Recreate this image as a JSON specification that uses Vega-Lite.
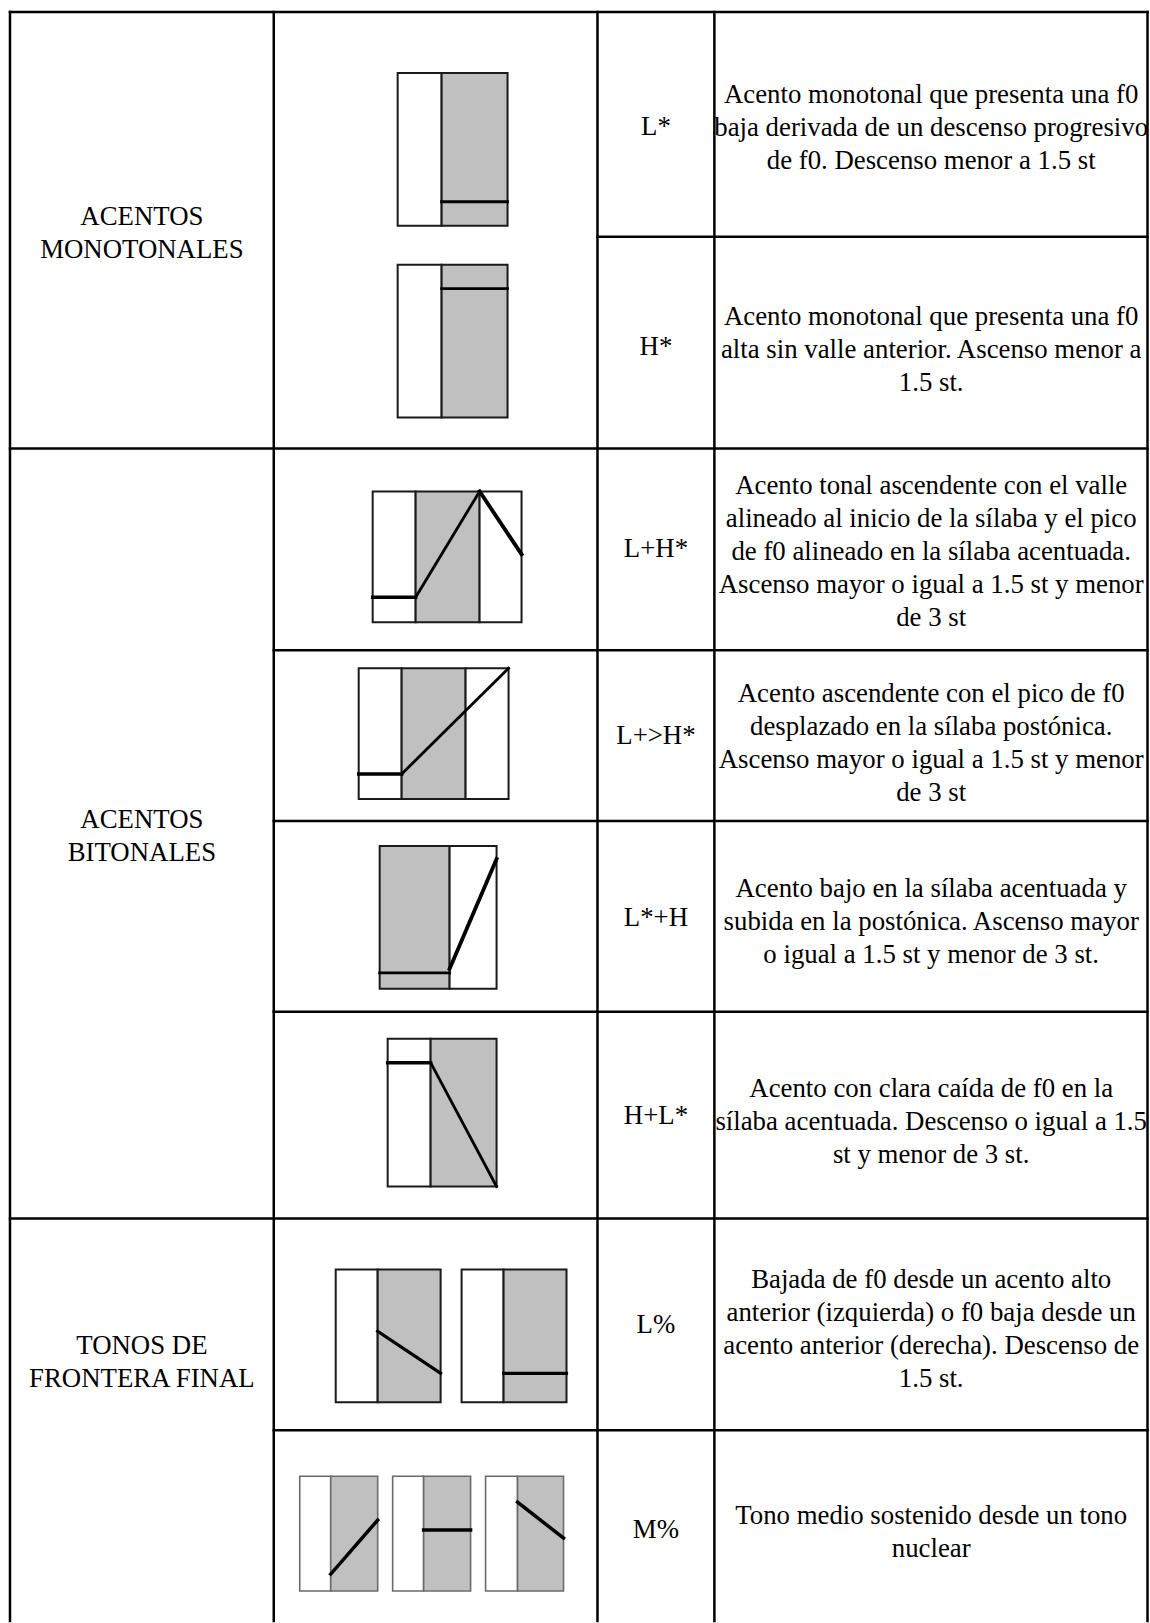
{
  "$schema": "https://vega.github.io/schema/vega-lite/v6.json",
  "width": 1150,
  "height": 1623,
  "autosize": {"type": "fit", "contains": "padding"},
  "padding": 0,
  "background": "white",
  "config": {"view": {"stroke": null}},
  "datasets": {
    "boxes": [
      {"fig": "L*", "x0": 398, "x1": 442, "y0": 73, "y1": 226, "tone": "white", "frame": "dark"},
      {"fig": "L*", "x0": 442, "x1": 508, "y0": 73, "y1": 226, "tone": "gray", "frame": "dark"},
      {"fig": "H*", "x0": 398, "x1": 442, "y0": 265, "y1": 418, "tone": "white", "frame": "dark"},
      {"fig": "H*", "x0": 442, "x1": 508, "y0": 265, "y1": 418, "tone": "gray", "frame": "dark"},
      {"fig": "L+H*", "x0": 373, "x1": 416, "y0": 492, "y1": 623, "tone": "white", "frame": "dark"},
      {"fig": "L+H*", "x0": 416, "x1": 480, "y0": 492, "y1": 623, "tone": "gray", "frame": "dark"},
      {"fig": "L+H*", "x0": 480, "x1": 522, "y0": 492, "y1": 623, "tone": "white", "frame": "dark"},
      {"fig": "L+>H*", "x0": 359, "x1": 402, "y0": 669, "y1": 800, "tone": "white", "frame": "dark"},
      {"fig": "L+>H*", "x0": 402, "x1": 466, "y0": 669, "y1": 800, "tone": "gray", "frame": "dark"},
      {"fig": "L+>H*", "x0": 466, "x1": 509, "y0": 669, "y1": 800, "tone": "white", "frame": "dark"},
      {"fig": "L*+H", "x0": 380, "x1": 450, "y0": 847, "y1": 990, "tone": "gray", "frame": "dark"},
      {"fig": "L*+H", "x0": 450, "x1": 497, "y0": 847, "y1": 990, "tone": "white", "frame": "dark"},
      {"fig": "H+L*", "x0": 388, "x1": 431, "y0": 1040, "y1": 1188, "tone": "white", "frame": "dark"},
      {"fig": "H+L*", "x0": 431, "x1": 497, "y0": 1040, "y1": 1188, "tone": "gray", "frame": "dark"},
      {"fig": "L% a", "x0": 336, "x1": 378, "y0": 1271, "y1": 1404, "tone": "white", "frame": "dark"},
      {"fig": "L% a", "x0": 378, "x1": 441, "y0": 1271, "y1": 1404, "tone": "gray", "frame": "dark"},
      {"fig": "L% b", "x0": 462, "x1": 504, "y0": 1271, "y1": 1404, "tone": "white", "frame": "dark"},
      {"fig": "L% b", "x0": 504, "x1": 567, "y0": 1271, "y1": 1404, "tone": "gray", "frame": "dark"},
      {"fig": "M% a", "x0": 300, "x1": 331, "y0": 1478, "y1": 1593, "tone": "white", "frame": "light"},
      {"fig": "M% a", "x0": 331, "x1": 378, "y0": 1478, "y1": 1593, "tone": "gray", "frame": "light"},
      {"fig": "M% b", "x0": 393, "x1": 424, "y0": 1478, "y1": 1593, "tone": "white", "frame": "light"},
      {"fig": "M% b", "x0": 424, "x1": 471, "y0": 1478, "y1": 1593, "tone": "gray", "frame": "light"},
      {"fig": "M% c", "x0": 486, "x1": 518, "y0": 1478, "y1": 1593, "tone": "white", "frame": "light"},
      {"fig": "M% c", "x0": 518, "x1": 564, "y0": 1478, "y1": 1593, "tone": "gray", "frame": "light"}
    ],
    "segments": [
      {"part": "grid", "x0": 10, "x1": 10, "y0": 12, "y1": 1623, "pen": "table"},
      {"part": "grid", "x0": 274, "x1": 274, "y0": 12, "y1": 1623, "pen": "table"},
      {"part": "grid", "x0": 598, "x1": 598, "y0": 12, "y1": 1623, "pen": "table"},
      {"part": "grid", "x0": 715, "x1": 715, "y0": 12, "y1": 1623, "pen": "table"},
      {"part": "grid", "x0": 1148.5, "x1": 1148.5, "y0": 12, "y1": 1623, "pen": "table"},
      {"part": "grid", "x0": 10, "x1": 1148.5, "y0": 12, "y1": 12, "pen": "table"},
      {"part": "grid", "x0": 10, "x1": 1148.5, "y0": 449, "y1": 449, "pen": "table"},
      {"part": "grid", "x0": 10, "x1": 1148.5, "y0": 1220, "y1": 1220, "pen": "table"},
      {"part": "grid", "x0": 598, "x1": 1148.5, "y0": 237, "y1": 237, "pen": "table"},
      {"part": "grid", "x0": 274, "x1": 1148.5, "y0": 651, "y1": 651, "pen": "table"},
      {"part": "grid", "x0": 274, "x1": 1148.5, "y0": 822, "y1": 822, "pen": "table"},
      {"part": "grid", "x0": 274, "x1": 1148.5, "y0": 1013, "y1": 1013, "pen": "table"},
      {"part": "grid", "x0": 274, "x1": 1148.5, "y0": 1432, "y1": 1432, "pen": "table"},
      {"part": "L*", "x0": 442, "x1": 508, "y0": 202, "y1": 202, "pen": "thick"},
      {"part": "H*", "x0": 442, "x1": 508, "y0": 289, "y1": 289, "pen": "thick"},
      {"part": "L+H*", "x0": 373, "x1": 416, "y0": 598, "y1": 598, "pen": "mid"},
      {"part": "L+H*", "x0": 416, "x1": 480, "y0": 598, "y1": 492, "pen": "thick"},
      {"part": "L+H*", "x0": 480, "x1": 522, "y0": 492, "y1": 555, "pen": "thin"},
      {"part": "L+>H*", "x0": 359, "x1": 402, "y0": 775, "y1": 775, "pen": "mid"},
      {"part": "L+>H*", "x0": 402, "x1": 509, "y0": 775, "y1": 669, "pen": "thick"},
      {"part": "L*+H", "x0": 380, "x1": 450, "y0": 974, "y1": 974, "pen": "thick"},
      {"part": "L*+H", "x0": 450, "x1": 497, "y0": 970, "y1": 860, "pen": "thin"},
      {"part": "H+L*", "x0": 388, "x1": 431, "y0": 1064, "y1": 1064, "pen": "mid"},
      {"part": "H+L*", "x0": 431, "x1": 497, "y0": 1064, "y1": 1188, "pen": "thick"},
      {"part": "L% a", "x0": 378, "x1": 441, "y0": 1333, "y1": 1375, "pen": "medium"},
      {"part": "L% b", "x0": 504, "x1": 567, "y0": 1375, "y1": 1375, "pen": "medium"},
      {"part": "M% a", "x0": 331, "x1": 378, "y0": 1576, "y1": 1522, "pen": "mid"},
      {"part": "M% b", "x0": 424, "x1": 471, "y0": 1532, "y1": 1532, "pen": "mid"},
      {"part": "M% c", "x0": 518, "x1": 564, "y0": 1504, "y1": 1540, "pen": "mid"}
    ],
    "cells": [
      {"col": "group", "x": 142, "y": 217, "txt": "ACENTOS\nMONOTONALES"},
      {"col": "group", "x": 142, "y": 821, "txt": "ACENTOS\nBITONALES"},
      {"col": "group", "x": 142, "y": 1348, "txt": "TONOS DE\nFRONTERA FINAL"},
      {"col": "label", "x": 656.5, "y": 127, "txt": "L*"},
      {"col": "label", "x": 656.5, "y": 347, "txt": "H*"},
      {"col": "label", "x": 656.5, "y": 550, "txt": "L+H*"},
      {"col": "label", "x": 656.5, "y": 737, "txt": "L+>H*"},
      {"col": "label", "x": 656.5, "y": 919, "txt": "L*+H"},
      {"col": "label", "x": 656.5, "y": 1117, "txt": "H+L*"},
      {"col": "label", "x": 656.5, "y": 1327, "txt": "L%"},
      {"col": "label", "x": 656.5, "y": 1532, "txt": "M%"},
      {"col": "desc", "x": 932, "y": 95, "txt": "Acento monotonal que presenta una f0\nbaja derivada de un descenso progresivo\nde f0. Descenso menor a 1.5 st"},
      {"col": "desc", "x": 932, "y": 317, "txt": "Acento monotonal que presenta una  f0\nalta sin valle anterior. Ascenso menor a\n1.5 st."},
      {"col": "desc", "x": 932, "y": 487, "txt": "Acento tonal ascendente con el valle\nalineado al inicio de la sílaba y el pico\nde  f0 alineado en la sílaba acentuada.\nAscenso mayor o igual a 1.5 st y menor\nde 3 st"},
      {"col": "desc", "x": 932, "y": 695, "txt": "Acento ascendente con el pico de f0\ndesplazado en la sílaba postónica.\nAscenso mayor o igual a 1.5 st y menor\nde 3 st"},
      {"col": "desc", "x": 932, "y": 890, "txt": "Acento bajo en la sílaba acentuada y\nsubida en la postónica. Ascenso mayor\no igual a 1.5 st y menor de 3 st."},
      {"col": "desc", "x": 932, "y": 1090, "txt": "Acento con clara caída de  f0 en la\nsílaba acentuada. Descenso o igual a 1.5\nst y menor de 3 st."},
      {"col": "desc", "x": 932, "y": 1282, "txt": "Bajada de f0 desde un acento alto\nanterior (izquierda) o f0 baja desde un\nacento anterior (derecha). Descenso de\n1.5 st."},
      {"col": "desc", "x": 932, "y": 1518, "txt": "Tono medio sostenido desde un tono\nnuclear"}
    ]
  },
  "resolve": {"scale": {"stroke": "independent", "strokeWidth": "independent"}},
  "layer": [
    {
      "data": {"name": "boxes"},
      "mark": {"type": "rect"},
      "encoding": {
        "x": {"field": "x0", "type": "quantitative", "scale": {"domain": [0, 1150], "nice": false, "zero": false}, "axis": null},
        "x2": {"field": "x1"},
        "y": {"field": "y0", "type": "quantitative", "scale": {"domain": [0, 1623], "nice": false, "zero": false, "reverse": true}, "axis": null},
        "y2": {"field": "y1"},
        "fill": {"field": "tone", "type": "nominal", "scale": {"domain": ["white", "gray"], "range": ["#ffffff", "#c0c0c0"]}, "legend": null},
        "stroke": {"field": "frame", "type": "nominal", "scale": {"domain": ["dark", "light"], "range": ["#1a1a1a", "#6b6b6b"]}, "legend": null},
        "strokeWidth": {"field": "frame", "type": "ordinal", "scale": {"domain": ["dark", "light"], "range": [2, 1.6]}, "legend": null}
      }
    },
    {
      "data": {"name": "segments"},
      "mark": {"type": "rule", "color": "#000000", "strokeCap": "square"},
      "encoding": {
        "x": {"field": "x0", "type": "quantitative", "scale": {"domain": [0, 1150], "nice": false, "zero": false}, "axis": null},
        "x2": {"field": "x1"},
        "y": {"field": "y0", "type": "quantitative", "scale": {"domain": [0, 1623], "nice": false, "zero": false, "reverse": true}, "axis": null},
        "y2": {"field": "y1"},
        "strokeWidth": {"field": "pen", "type": "ordinal", "scale": {"domain": ["table", "thick", "medium", "mid", "thin"], "range": [2.5, 3.8, 2.8, 2, 1.3]}, "legend": null}
      }
    },
    {
      "data": {"name": "cells"},
      "mark": {"type": "text", "font": "Liberation Serif", "fontSize": 26.8, "lineHeight": 33, "lineBreak": "\n", "align": "center", "baseline": "middle", "color": "#000000"},
      "encoding": {
        "x": {"field": "x", "type": "quantitative", "scale": {"domain": [0, 1150], "nice": false, "zero": false}, "axis": null},
        "y": {"field": "y", "type": "quantitative", "scale": {"domain": [0, 1623], "nice": false, "zero": false, "reverse": true}, "axis": null},
        "text": {"field": "txt", "type": "nominal"}
      }
    }
  ]
}
